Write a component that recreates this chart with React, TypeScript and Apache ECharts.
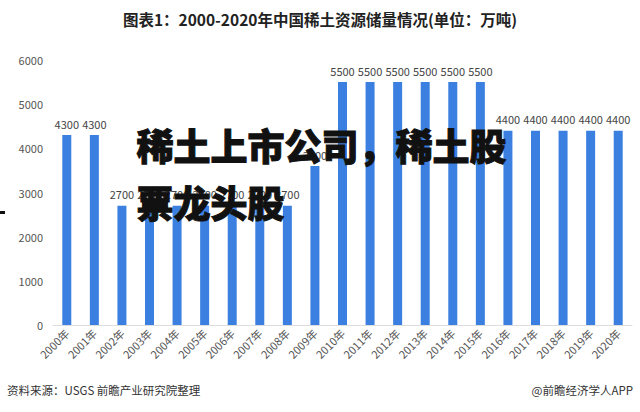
import React, { useEffect, useRef } from "react";
import * as echarts from "echarts";

const title = "图表1：2000-2020年中国稀土资源储量情况(单位：万吨)";
const years = [
  "2000年", "2001年", "2002年", "2003年", "2004年", "2005年", "2006年",
  "2007年", "2008年", "2009年", "2010年", "2011年", "2012年", "2013年",
  "2014年", "2015年", "2016年", "2017年", "2018年", "2019年", "2020年",
];
const reserves = [
  4300, 4300, 2700, 2700, 2700, 2700, 2700, 2700, 2700, 3600,
  5500, 5500, 5500, 5500, 5500, 5500, 4400, 4400, 4400, 4400, 4400,
];
const yTicks = { min: 0, max: 6000, interval: 1000 };
const sourceText = "资料来源：USGS 前瞻产业研究院整理";
const brandText = "@前瞻经济学人APP";
const overlayLine1 = "稀土上市公司，稀土股";
const overlayLine2 = "票龙头股";

export default function App() {
  const ref = useRef<HTMLDivElement>(null);
  useEffect(() => {
    if (!ref.current) return;
    const chart = echarts.init(ref.current, null, { renderer: "svg" });
    const cjk = "'Noto Sans CJK SC', 'Noto Sans', sans-serif";
    chart.setOption({
      animation: false,
      backgroundColor: "#ffffff",
      title: {
        text: title,
        left: "center",
        top: 6,
        textStyle: { fontFamily: cjk, fontSize: 15.5, fontWeight: "bold", color: "#222" },
      },
      grid: { left: 53, right: 8, top: 60, bottom: 87, containLabel: false },
      xAxis: {
        type: "category",
        data: years,
        axisLine: { lineStyle: { color: "#dddddd", width: 1 } },
        axisTick: { show: false },
        axisLabel: {
          rotate: 45,
          color: "#555",
          fontSize: 11,
          fontFamily: cjk,
          interval: 0,
          margin: 6,
        },
      },
      yAxis: {
        type: "value",
        min: yTicks.min,
        max: yTicks.max,
        interval: yTicks.interval,
        axisLine: { show: false },
        axisTick: { show: false },
        splitLine: { show: false },
        axisLabel: {
          color: "#555",
          fontSize: 11,
          fontFamily: cjk,
          margin: 10,
          formatter: (v: number) => String(v),
        },
      },
      series: [
        {
          type: "bar",
          data: reserves,
          barWidth: 9,
          itemStyle: { color: "#3b80e0" },
          label: {
            show: true,
            position: "top",
            color: "#444",
            fontSize: 11,
            fontFamily: cjk,
            distance: 6,
          },
        },
      ],
      graphic: [
        {
          type: "text",
          left: 7,
          top: 384,
          style: { text: sourceText, fontSize: 11.5, fill: "#333", fontFamily: cjk },
        },
        {
          type: "text",
          right: 7,
          top: 384,
          style: { text: brandText, fontSize: 11.5, fill: "#333", fontFamily: cjk },
        },
        {
          type: "text",
          left: 136,
          top: 126,
          z: 100,
          style: {
            text: overlayLine1,
            fontSize: 37,
            fontWeight: 900,
            fill: "#111",
            stroke: "#111",
            lineWidth: 1,
            fontFamily: cjk,
          },
        },
        {
          type: "text",
          left: 136,
          top: 183,
          z: 100,
          style: {
            text: overlayLine2,
            fontSize: 37,
            fontWeight: 900,
            fill: "#111",
            stroke: "#111",
            lineWidth: 1,
            fontFamily: cjk,
          },
        },
        {
          type: "rect",
          shape: { x: 0, y: 211, width: 5, height: 3 },
          style: { fill: "#111" },
        },
      ],
    });
    return () => chart.dispose();
  }, []);
  return <div ref={ref} style={{ width: 640, height: 412, position: "absolute", left: 0, top: 0 }} />;
}
